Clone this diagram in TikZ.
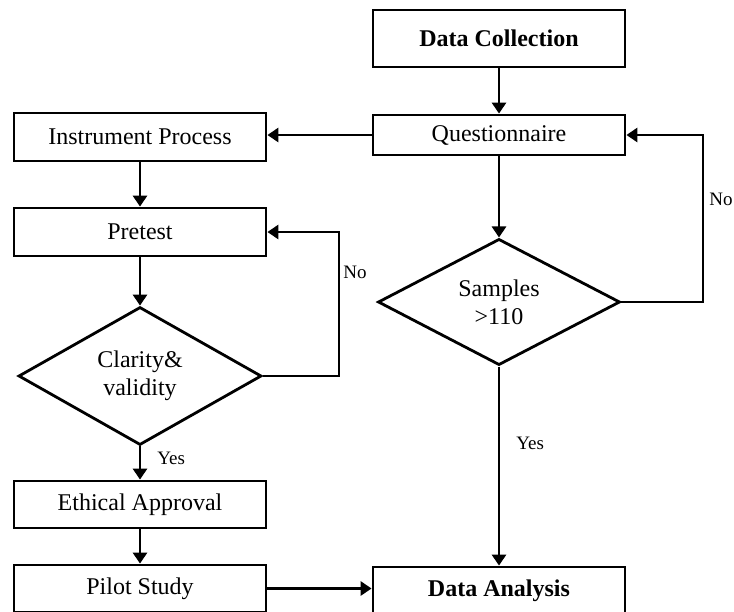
\documentclass[tikz,border=0pt]{standalone}
\usepackage{fontspec}
\setmainfont{Liberation Serif}
\usetikzlibrary{shapes.geometric,arrows.meta}

\begin{document}
\begin{tikzpicture}[x=0.5pt,y=-0.5pt,
  every node/.style={font=\fontsize{12}{14}\selectfont},
  box/.style={draw, line width=1.4pt, rectangle, inner sep=0pt,
              minimum width=126pt, minimum height=23.5pt, align=center},
  decision/.style={draw, line width=1.4pt, diamond, inner sep=0pt, align=center},
  arr/.style={line width=1.4pt, -{Triangle[length=5.5pt,width=7pt]}},
  lbl/.style={font=\fontsize{9.5}{11}\selectfont, inner sep=0pt, anchor=west}]

\useasboundingbox (0,0) rectangle (734,611);
\clip (0,0) rectangle (734,611);

% right column
\node[box, minimum height=28.5pt, font=\fontsize{12}{14}\selectfont\bfseries]
  (dc) at (499,38.5) {Data Collection};
\node[box, minimum height=20pt] (q) at (499,135) {Questionnaire};
\node[decision, minimum width=121pt, minimum height=63pt] (sm) at (499,302)
  {Samples\\>110};
\node[box, font=\fontsize{12}{14}\selectfont\bfseries] (da) at (499,590.5)
  {Data Analysis};

% left column
\node[box, minimum height=24pt] (ip) at (140,137) {Instrument Process};
\node[box, minimum height=24pt] (pt) at (140,232) {Pretest};
\node[decision, minimum width=121.5pt, minimum height=69pt] (cv) at (140,376)
  {Clarity\&\\validity};
\node[box] (ea) at (140,504.5) {Ethical Approval};
\node[box] (ps) at (140,588.5) {Pilot Study};

% bend points of the two feedback loops
\coordinate (nl) at (339,376);
\coordinate (nr) at (703,302);

% connectors
\draw[arr] (dc.south) -- (q.north);
\draw[arr] (q.west) -- (q.west -| ip.east);
\draw[arr] (ip.south) -- (pt.north);
\draw[arr] (pt.south) -- (cv.north);
\draw[arr] (cv.south) -- (ea.north);
\draw[arr] (ea.south) -- (ps.north);
\draw[arr] (ps.east) -- (ps.east -| da.west);
\draw[arr] (q.south) -- (sm.north);
\draw[arr] (sm.south) -- (da.north);
\draw[arr] (cv.east) -- (nl) |- (pt.east);
\draw[arr] (sm.east) -- (nr) |- (q.east);

% branch labels
\node[lbl] (nol) at (343,272) {No};
\node[lbl] (nor) at (709,199) {No};
\node[lbl] (yesl) at (157,458) {Yes};
\node[lbl] (yesr) at (516,443) {Yes};

\end{tikzpicture}
\end{document}
